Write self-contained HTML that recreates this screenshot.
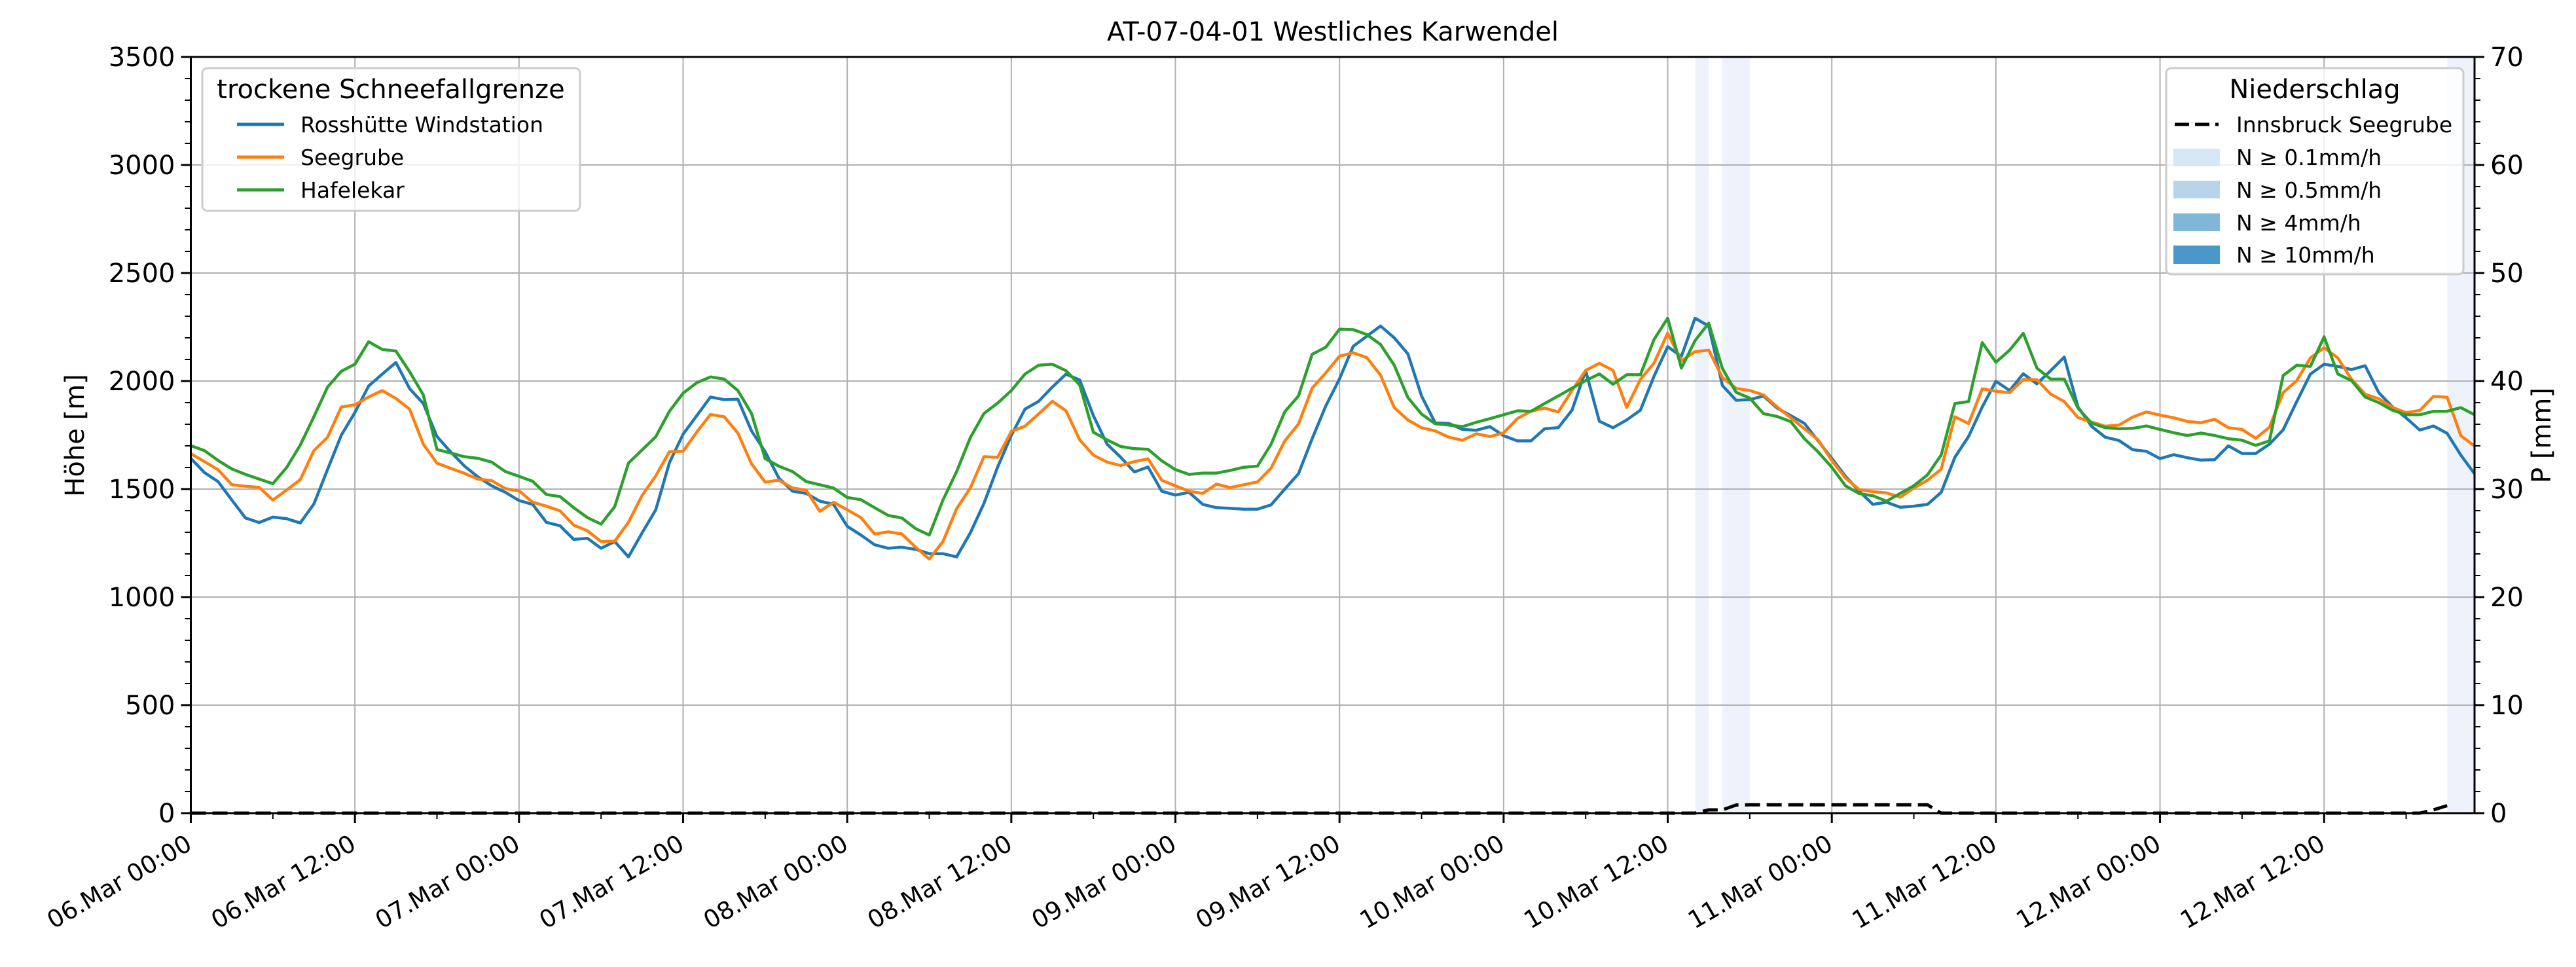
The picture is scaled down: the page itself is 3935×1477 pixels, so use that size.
<!DOCTYPE html>
<html><head><meta charset="utf-8"><style>
html,body{margin:0;padding:0;background:#fff;}
svg{display:block;font-family:"DejaVu Sans","Liberation Sans",sans-serif;}
</style></head><body>
<svg id="chart" width="3935" height="1477" viewBox="0 0 3935 1477" xmlns="http://www.w3.org/2000/svg">
<rect x="0" y="0" width="3935" height="1477" fill="#fff"/>
<g id="spans"></g>
<g id="grid"></g>
<g id="series"></g>
<g id="axes"></g>
<text x="2036" y="62" font-size="40" text-anchor="middle">AT-07-04-01 Westliches Karwendel</text>
<text transform="translate(128,665) rotate(-90)" font-size="40" text-anchor="middle">Höhe [m]</text>
<text transform="translate(3896,665) rotate(-90)" font-size="40" text-anchor="middle">P [mm]</text>
<g>
<rect x="309" y="104" width="577" height="218" rx="8" fill="#fff" fill-opacity="0.8" stroke="#cccccc" stroke-width="3"/>
<text x="597" y="150" font-size="40" text-anchor="middle">trockene Schneefallgrenze</text>
<line x1="362" y1="190" x2="434" y2="190" stroke="#1f77b4" stroke-width="5"/>
<text x="459" y="202" font-size="33">Rosshütte Windstation</text>
<line x1="362" y1="240" x2="434" y2="240" stroke="#ff7f0e" stroke-width="5"/>
<text x="459" y="252" font-size="33">Seegrube</text>
<line x1="362" y1="290" x2="434" y2="290" stroke="#2ca02c" stroke-width="5"/>
<text x="459" y="302" font-size="33">Hafelekar</text>
</g>
<g>
<rect x="3309" y="104" width="454" height="315" rx="8" fill="#fff" fill-opacity="0.8" stroke="#cccccc" stroke-width="3"/>
<text x="3536" y="150" font-size="40" text-anchor="middle">Niederschlag</text>
<line x1="3322" y1="190" x2="3389" y2="190" stroke="#000" stroke-width="5" stroke-dasharray="22,9"/>
<text x="3416" y="202" font-size="33">Innsbruck Seegrube</text>
<rect x="3320" y="227" width="71" height="27" fill="#d8e7f5"/>
<text x="3416" y="252" font-size="33">N ≥ 0.1mm/h</text>
<rect x="3320" y="276" width="71" height="27" fill="#b7d4ea"/>
<text x="3416" y="302" font-size="33">N ≥ 0.5mm/h</text>
<rect x="3320" y="326" width="71" height="27" fill="#80b6d8"/>
<text x="3416" y="352" font-size="33">N ≥ 4mm/h</text>
<rect x="3320" y="375" width="71" height="28" fill="#4a98c9"/>
<text x="3416" y="401" font-size="33">N ≥ 10mm/h</text>
</g>
</svg>
<script>
const rosshuette=[1642,1576,1534,1449,1366,1345,1370,1363,1343,1431,1591,1749,1855,1977,2032,2086,1965,1896,1743,1672,1607,1556,1515,1485,1447,1429,1346,1330,1267,
1272,1226,1257,1186,1297,1404,1622,1754,1840,1926,1914,1916,1769,1673,1551,1490,1480,1444,1429,1328,1287,1242,1226,1231,1221,1201,1201,1186,
1297,1434,1602,1749,1870,1906,1972,2032,2005,1840,1708,1647,1579,1602,1490,1472,1485,1429,1414,1411,1407,1407,1427,1500,1571,1733,1885,2010,
2161,2208,2255,2200,2126,1931,1806,1804,1776,1772,1789,1747,1723,1723,1779,1784,1865,2048,1814,1784,1820,1865,2022,2159,2114,2291,2255,
1979,1911,1914,1931,1875,1840,1804,1723,1642,1559,1490,1429,1439,1416,1421,1429,1485,1647,1743,1880,1999,1956,2034,1987,2048,2111,1880,1790,
1740,1725,1682,1675,1641,1659,1645,1634,1636,1700,1665,1665,1708,1774,1905,2032,2078,2068,2053,2071,1946,1880,1829,1773,1792,1758,1657,1571];
const seegrube=[1664,1627,1589,1520,1513,1508,1449,1495,1543,1678,1740,1880,1890,1926,1956,1919,1870,1708,1620,1596,1573,1546,1539,1502,1492,1439,1421,1399,1333,
1307,1257,1259,1346,1470,1561,1673,1675,1764,1845,1835,1759,1617,1532,1541,1505,1495,1397,1439,1404,1368,1292,1302,1292,1231,1176,1257,1409,
1505,1650,1647,1767,1791,1848,1906,1862,1728,1657,1625,1609,1627,1640,1541,1515,1490,1480,1523,1507,1520,1533,1597,1723,1801,1967,2038,2115,
2131,2108,2027,1877,1820,1784,1769,1740,1726,1756,1743,1760,1826,1860,1875,1857,1956,2049,2082,2049,1878,2007,2083,2222,2093,2136,2143,
2016,1966,1956,1936,1880,1830,1779,1728,1632,1551,1498,1488,1482,1462,1505,1541,1592,1835,1803,1964,1953,1946,2007,2006,1940,1905,1831,1810,
1791,1796,1833,1857,1842,1830,1813,1807,1823,1784,1776,1735,1786,1946,2002,2107,2154,2107,2009,1939,1918,1878,1854,1864,1929,1925,1747,1699];
const hafelekar=[1701,1678,1632,1593,1568,1546,1525,1599,1703,1835,1972,2045,2078,2182,2146,2139,2043,1936,1683,1667,1650,1642,1625,1581,1559,1536,1475,1465,1414,
1368,1338,1419,1620,1681,1742,1860,1944,1992,2019,2009,1956,1850,1641,1606,1581,1535,1520,1505,1461,1451,1414,1378,1366,1317,1287,1449,1581,
1738,1850,1898,1956,2032,2073,2078,2048,1982,1763,1728,1697,1687,1684,1631,1590,1568,1574,1574,1586,1601,1606,1708,1858,1931,2124,2157,2240,
2238,2215,2169,2073,1924,1847,1802,1796,1789,1809,1826,1844,1862,1860,1896,1931,1967,2002,2033,1985,2029,2029,2192,2291,2060,2187,2268,
2058,1948,1921,1849,1836,1812,1733,1672,1601,1515,1479,1469,1444,1480,1515,1566,1658,1896,1905,2178,2087,2143,2221,2060,2009,2009,1875,1805,
1784,1779,1781,1792,1776,1761,1748,1759,1748,1733,1726,1702,1723,2025,2073,2068,2205,2033,2002,1926,1900,1865,1844,1844,1860,1860,1877,1844];
const precip=[0,0,0,0,0,0,0,0,0,0,0,0,0,0,0,0,0,0,0,0,0,0,0,0,0,0,0,0,0,0,
0,0,0,0,0,0,0,0,0,0,0,0,0,0,0,0,0,0,0,0,0,0,0,0,0,0,0,0,0,0,
0,0,0,0,0,0,0,0,0,0,0,0,0,0,0,0,0,0,0,0,0,0,0,0,0,0,0,0,0,0,
0,0,0,0,0,0,0,0,0,0,0,0,0,0,0,0,0,0,0,0,0,0.3,0.3,0.75,0.77,0.77,0.77,0.77,0.77,0.77,
0.77,0.77,0.77,0.77,0.77,0.77,0.77,0.77,0,0,0,0,0,0,0,0,0,0,0,0,0,0,0,0,0,0,0,0,
0,0,0,0,0,0,0,0,0,0,0,0,0,0,0,0,0.3,0.7];
const spanStarts=[110,112,165];
const spanEnds=[111,114,167];
const xTickLabels=["06.Mar 00:00","06.Mar 12:00","07.Mar 00:00","07.Mar 12:00","08.Mar 00:00","08.Mar 12:00","09.Mar 00:00","09.Mar 12:00","10.Mar 00:00","10.Mar 12:00","11.Mar 00:00","11.Mar 12:00","12.Mar 00:00","12.Mar 12:00"];
const yTicks=[0,500,1000,1500,2000,2500,3000,3500];
const y2Ticks=[0,10,20,30,40,50,60,70];

const NS="http://www.w3.org/2000/svg";
const L=291.5,R=3780,T=87,B=1242,NH=167;
const xs=h=>L+h*(R-L)/NH;
const ys=v=>B-v/3500*(B-T);
const yp=p=>B-p/70*(B-T);
function mk(tag,attrs,parent){const e=document.createElementNS(NS,tag);for(const k in attrs)e.setAttribute(k,attrs[k]);parent.appendChild(e);return e;}
const gS=document.getElementById('spans'),gG=document.getElementById('grid'),gL=document.getElementById('series'),gA=document.getElementById('axes');

spanStarts.forEach((s,i)=>{
  const r=mk('rect',{x:xs(s),y:T,width:xs(spanEnds[i])-xs(s),height:B-T,fill:'#eef3fb'},gS);
  
  
});
xTickLabels.forEach((lab,i)=>{
  const x=xs(i*12);
  const g=mk('line',{x1:x,y1:T,x2:x,y2:B,stroke:'#b0b0b0','stroke-width':2},gG);
  
  
});
yTicks.forEach(v=>{
  const g=mk('line',{x1:L,y1:ys(v),x2:R,y2:ys(v),stroke:'#b0b0b0','stroke-width':2},gG);
  
  
});
function series(arr,color,name){
  const pts=arr.map((v,i)=>xs(i).toFixed(1)+','+ys(v).toFixed(1)).join(' ');
  const p=mk('polyline',{points:pts,fill:'none',stroke:color,'stroke-width':4.5,'stroke-linejoin':'round'},gL);
  
  
}
series(rosshuette,'#1f77b4','line-rosshuette');
series(seegrube,'#ff7f0e','line-seegrube');
series(hafelekar,'#2ca02c','line-hafelekar');
const pp=mk('polyline',{points:precip.map((v,i)=>xs(i).toFixed(1)+','+yp(v).toFixed(1)).join(' '),fill:'none',stroke:'#000','stroke-width':5,'stroke-dasharray':'23,10'},gL);



const fr=mk('rect',{x:L,y:T,width:R-L,height:B-T,fill:'none',stroke:'#000','stroke-width':3},gA);


for(let h=0;h<=NH;h+=6){
  const major=h%12===0;
  const t=mk('line',{x1:xs(h),y1:B,x2:xs(h),y2:B+(major?15:9),stroke:'#000','stroke-width':major?3:2},gA);
  
  
}
xTickLabels.forEach((lab,i)=>{
  const x=xs(i*12)+4,y=1296;
  const t=mk('text',{x:x,y:y,'font-size':37,'text-anchor':'end',transform:`rotate(-30 ${x} ${y})`},gA);
  t.textContent=lab;
  
  
});
for(let v=0;v<=3500;v+=100){
  const major=v%500===0;
  const t=mk('line',{x1:L,y1:ys(v),x2:L-(major?15:9),y2:ys(v),stroke:'#000','stroke-width':major?3:2},gA);
  
  
}
yTicks.forEach(v=>{
  const t=mk('text',{x:L-24,y:ys(v)+14,'font-size':40,'text-anchor':'end'},gA);
  t.textContent=v;
  
  
});
for(let p=0;p<=70;p+=2){
  const major=p%10===0;
  const t=mk('line',{x1:R,y1:yp(p),x2:R+(major?15:9),y2:yp(p),stroke:'#000','stroke-width':major?3:2},gA);
  
  
}
y2Ticks.forEach(p=>{
  const t=mk('text',{x:R+24,y:yp(p)+14,'font-size':40,'text-anchor':'start'},gA);
  t.textContent=p;
  
  
});
</script>
</body></html>
